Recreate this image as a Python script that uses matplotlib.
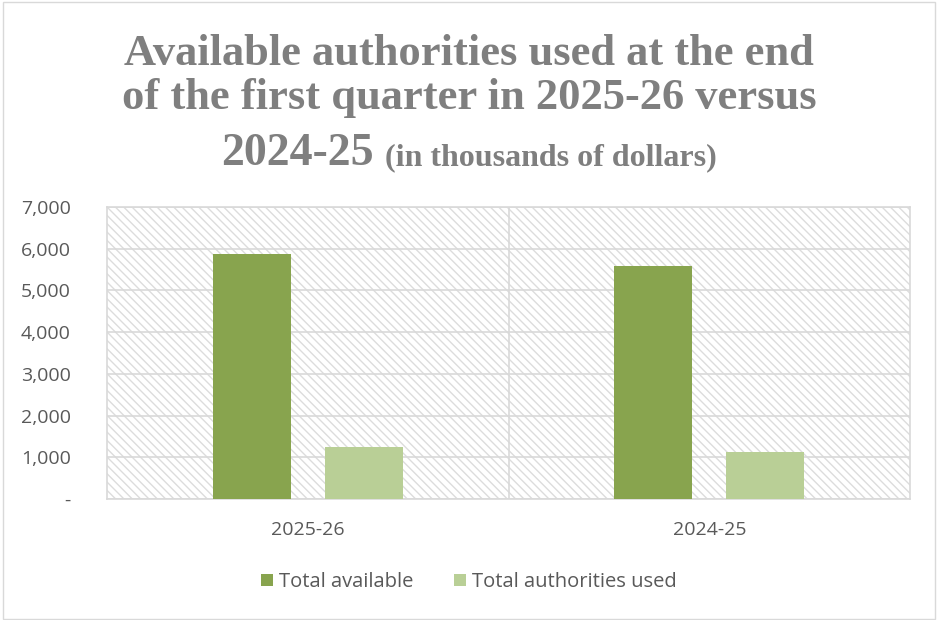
import matplotlib.pyplot as plt
import numpy as np
from matplotlib.offsetbox import TextArea, HPacker, AnchoredOffsetbox
from matplotlib.patches import Rectangle

years = ['2025-26', '2024-25']
total_available = [5880, 5590]
total_used = [1250, 1120]
series_names = ['Total available', 'Total authorities used']
colors = ['#88a44e', '#b9cf96']

plt.rcParams['hatch.linewidth'] = 1.0

fig = plt.figure(figsize=(9.38, 6.2), dpi=100)
ax = fig.add_axes([107 / 938, 1 - 499 / 620, 803 / 938, 292 / 620])

# hatched plot area background
ax.add_patch(Rectangle((0, 0), 1, 1, transform=ax.transAxes, facecolor='white',
                       edgecolor='#dcdcdc', linewidth=0, hatch='\\\\\\\\', zorder=0))

x = np.arange(len(years))
w = 0.194
off = 0.139
ax.bar(x - off, total_available, w, color=colors[0], label=series_names[0], zorder=3)
ax.bar(x + off, total_used, w, color=colors[1], label=series_names[1], zorder=3)

ax.set_xlim(-0.5, 1.5)
ax.set_ylim(0, 7000)
ticks = np.arange(0, 7001, 1000)
ax.set_yticks(ticks)
ax.set_yticklabels(['-'] + ['{:,}'.format(t) for t in ticks[1:]])
ax.set_xticks(x)
ax.set_xticklabels(years)
ax.grid(axis='y', color='#d9d9d9', linewidth=1.2, zorder=1)
ax.axvline(0.5, color='#d9d9d9', linewidth=1.2, zorder=1)
for s in ax.spines.values():
    s.set_color('#d9d9d9')
    s.set_linewidth(1.2)
ax.tick_params(length=0, labelsize=14, labelcolor='#595959')
ax.tick_params(axis='y', pad=26)
ax.tick_params(axis='x', pad=16)
for lab in ax.get_xticklabels() + ax.get_yticklabels():
    lab.set_family('Open Sans')
ax.set_axisbelow(True)

# title
tcol = '#7f7f7f'
fig.text(0.5, 1 - 76 / 620, 'Available authorities used at the end\nof the first quarter in 2025-26 versus',
         ha='center', va='center', fontsize=32, fontweight='bold', color=tcol,
         family='Liberation Serif', linespacing=1.12)
t1 = TextArea('2024-25', textprops=dict(fontsize=33, fontweight='bold', color=tcol, family='Liberation Serif'))
t2 = TextArea('(in thousands of dollars)', textprops=dict(fontsize=23, fontweight='bold', color=tcol, family='Liberation Serif'))
box = HPacker(children=[t1, t2], align='baseline', pad=0, sep=8)
anch = AnchoredOffsetbox(loc='center', child=box, frameon=False,
                         bbox_to_anchor=(0.5, 1 - 154 / 620), bbox_transform=fig.transFigure, pad=0, borderpad=0)
fig.add_artist(anch)

fig.legend(loc='center', bbox_to_anchor=(0.5, 1 - 582 / 620), ncol=2, frameon=False,
           prop={'family': 'Open Sans', 'size': 14.5}, labelcolor='#595959',
           handlelength=0.6, handleheight=0.6, handletextpad=0.3, columnspacing=2.0)

fig.add_artist(Rectangle((3 / 938, 0.002), 1 - 6 / 938, 0.995, transform=fig.transFigure,
                         fill=False, edgecolor='#d9d9d9', linewidth=1))

plt.savefig('out.png')
